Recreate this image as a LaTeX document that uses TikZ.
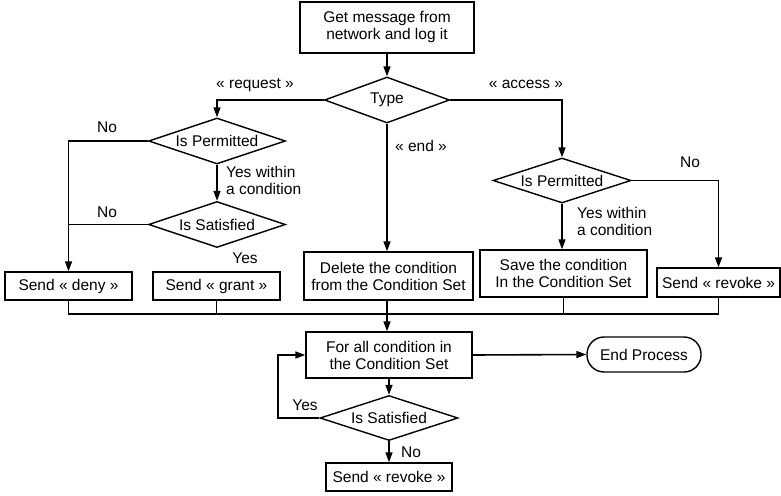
\documentclass[tikz,border=0pt]{standalone}
\usepackage{fontspec}
\setmainfont{Liberation Sans}
\usetikzlibrary{shapes.geometric,arrows.meta}
\begin{document}
\begin{tikzpicture}[x=1pt,y=-1pt,
  every node/.style={font=\fontsize{15.5}{17}\selectfont},
  box/.style={draw,line width=1.4pt,rectangle,inner sep=0pt,align=center},
  dec/.style={draw,line width=1.4pt,diamond,aspect=3,inner sep=0pt},
  flow/.style={line width=1.6pt},
  arr/.style={flow,-{Triangle[length=10pt,width=7pt]}},
  lbl/.style={inner sep=0pt,align=left}]
\useasboundingbox (0,0) rectangle (781,495);
\node[box,minimum width=174pt,minimum height=51pt] (get) at (387,27.5) {Get message from\\network and log it};
\node[dec,minimum width=125pt,minimum height=46pt] (type) at (387,100) {Type};
\node[dec,minimum width=137pt,minimum height=46pt] (perm1) at (217,141) {Is Permitted};
\node[dec,minimum width=137pt,minimum height=46pt] (sat1) at (217,224.5) {Is Satisfied};
\node[box,minimum width=127pt,minimum height=28pt] (deny) at (68.5,286) {Send « deny »};
\node[box,minimum width=127pt,minimum height=28pt] (grant) at (216.5,286) {Send « grant »};
\node[box,minimum width=169pt,minimum height=48pt] (del) at (388.5,276) {Delete the condition\\from the Condition Set};
\node[dec,minimum width=138pt,minimum height=45pt] (perm2) at (562,180.5) {Is Permitted};
\node[box,minimum width=167pt,minimum height=47pt] (save) at (563.5,273.5) {Save the condition\\In the Condition Set};
\node[box,minimum width=123pt,minimum height=29pt] (rev1) at (718.5,282.5) {Send « revoke »};
\node[box,minimum width=166pt,minimum height=46pt] (forall) at (389,355) {For all condition in\\the Condition Set};
\node[draw,line width=1.4pt,rectangle,rounded corners=17pt,minimum width=114pt,minimum height=35pt,inner sep=0pt] (endp) at (644,354.5) {End Process};
\node[dec,minimum width=138pt,minimum height=45pt] (sat2) at (389,418) {Is Satisfied};
\node[box,minimum width=126pt,minimum height=28pt] (rev2) at (389,477) {Send « revoke »};
% connectors
\draw[arr] (get.south -| type.north) -- (type.north);
\draw[arr] (type.west) -| (perm1.north);
\draw[arr] (type.east) -| (perm2.north);
\draw[arr] (type.south) -- (type.south |- del.north);
\draw[arr] (perm1.west) -| (deny.north);
\draw[arr] (perm1.south) -- (sat1.north);
\draw[flow] (sat1.west) -- (sat1.west -| deny.north);
\draw[arr] (perm2.east) -| (rev1.north);
\draw[arr] (perm2.south) -- (perm2.south |- save.north);
\coordinate (jl) at (68.5,314);
\coordinate (jr) at (718.5,314);
\draw[flow] (deny.south) -- (jl) -- (jr) -- (rev1.south);
\draw[flow] (grant.south) -- (grant.south |- jl);
\draw[flow] (save.south) -- (save.south |- jl);
\draw[arr] (type.south |- del.south) -- (type.south |- forall.north);
\draw[arr] (forall.east) -- (endp.west);
\draw[arr] (forall.south) -- (sat2.north);
\coordinate (loop) at (278,418);
\draw[arr] (sat2.west) -- (loop) |- (forall.west);
\draw[arr] (sat2.south) -- (rev2.north);
% labels
\node[lbl] (l1) at (255,85) {« request »};
\node[lbl] (l2) at (526,84) {« access »};
\node[lbl] (l3) at (421,146) {« end »};
\node[lbl] (l4) at (107,127) {No};
\node[lbl] (l5) at (107,212) {No};
\node[lbl,anchor=west] (l6) at (226,180) {Yes within\\a condition};
\node[lbl] (l7) at (245,258) {Yes};
\node[lbl] (l8) at (690,162) {No};
\node[lbl,anchor=west] (l9) at (577,221) {Yes within\\a condition};
\node[lbl] (l10) at (305,405) {Yes};
\node[lbl] (l11) at (411,452) {No};
\end{tikzpicture}
\end{document}
